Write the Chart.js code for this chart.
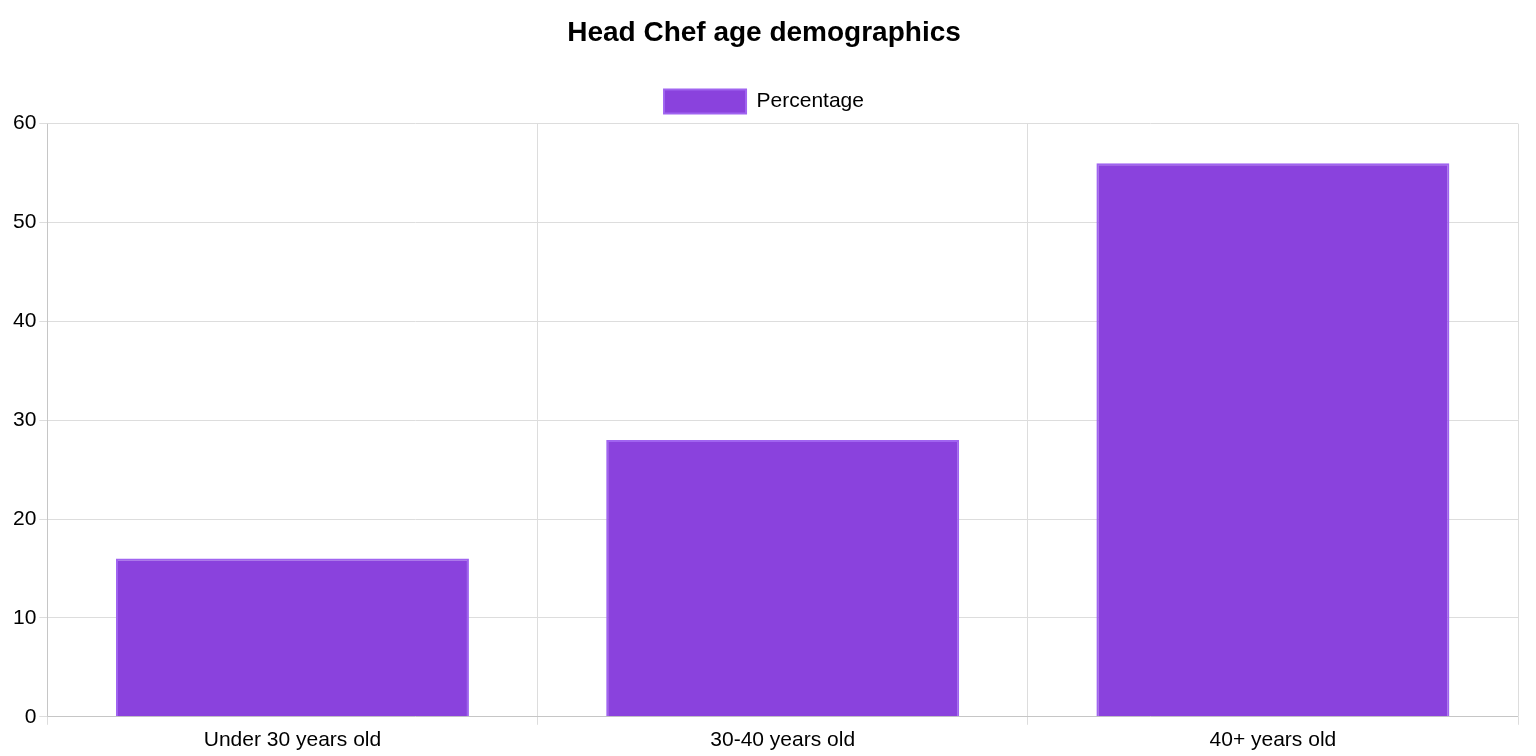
<!DOCTYPE html>
<html>
<head>
<meta charset="utf-8">
<script src="https://cdn.jsdelivr.net/npm/chart.js"></script>
<style>
  html, body { margin: 0; padding: 0; background: #fff; }
  #wrap { width: 1536px; height: 756px; }
</style>
</head>
<body>
<div id="wrap"><canvas id="chart"></canvas></div>
<script>
const categories = ['Under 30 years old', '30-40 years old', '40+ years old'];
const percentages = [16, 28, 56];

Chart.defaults.font.family = 'Helvetica, Arial, "Liberation Sans", sans-serif';
Chart.defaults.color = '#000';

new Chart(document.getElementById('chart'), {
  type: 'bar',
  data: {
    labels: categories,
    datasets: [{
      label: 'Percentage',
      data: percentages,
      backgroundColor: '#8a42dd',
      borderColor: '#a064f0',
      borderWidth: 2
    }]
  },
  options: {
    responsive: true,
    maintainAspectRatio: false,
    animation: false,
    layout: { padding: { left: 10, right: 18, top: 10, bottom: 0 } },
    plugins: {
      title: {
        display: true,
        text: 'Head Chef age demographics',
        font: { size: 28, weight: 'bold' },
        padding: { top: 6, bottom: 30 }
      },
      legend: {
        labels: { font: { size: 21 }, boxWidth: 82, boxHeight: 24 }
      }
    },
    scales: {
      x: {
        ticks: { font: { size: 21 } },
        grid: { color: '#ddd' }
      },
      y: {
        beginAtZero: true,
        max: 60,
        ticks: { stepSize: 10, font: { size: 21 } },
        grid: { color: '#ddd' }
      }
    }
  }
});
</script>
</body>
</html>
